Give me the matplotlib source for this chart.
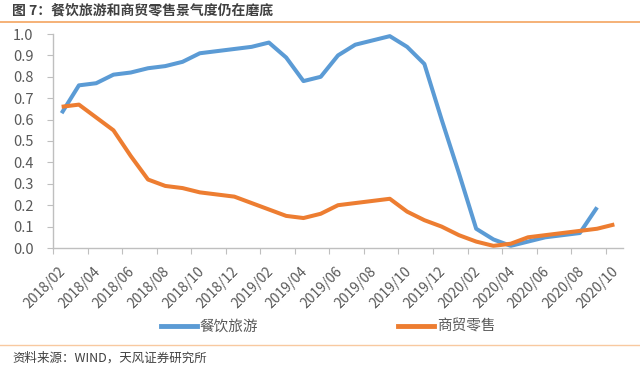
import numpy as np
import matplotlib
matplotlib.use("Agg")
from matplotlib import pyplot as plt
from matplotlib.lines import Line2D
from matplotlib.transforms import ScaledTranslation

plt.rcParams['font.family'] = ['Noto Sans CJK SC', 'DejaVu Sans']

# monthly, 2018/02 .. 2020/10
months = ["%d/%02d" % (2018 + (m - 1) // 12, (m - 1) % 12 + 1) for m in range(2, 2 + 33)]
catering_tourism = [0.63, 0.76, 0.77, 0.81, 0.82, 0.84, 0.85, 0.87, 0.91, 0.92, 0.93,
                    0.94, 0.96, 0.89, 0.78, 0.80, 0.90, 0.95, 0.97, 0.99, 0.94, 0.86,
                    0.60, 0.35, 0.09, 0.04, 0.01, 0.03, 0.05, 0.06, 0.07, 0.19, np.nan]
retail = [0.66, 0.67, 0.61, 0.55, 0.43, 0.32, 0.29, 0.28, 0.26, 0.25, 0.24,
          0.21, 0.18, 0.15, 0.14, 0.16, 0.20, 0.21, 0.22, 0.23, 0.17, 0.13,
          0.10, 0.06, 0.03, 0.01, 0.02, 0.05, 0.06, 0.07, 0.08, 0.09, 0.11]
series_names = ["餐饮旅游", "商贸零售"]
title = "图 7：餐饮旅游和商贸零售景气度仍在磨底"
source = "资料来源：WIND，天风证券研究所"

blue = "#5B9BD5"
orange = "#ED7D31"
grey = "#595959"
axis_grey = "#BFBFBF"

fig = plt.figure(figsize=(6.4, 3.7), dpi=100)
ax = fig.add_axes([53 / 640, 1 - 248 / 370, 570 / 640, 214 / 370])

x = np.arange(len(months))
ax.plot(x, catering_tourism, color=blue, lw=2.9, solid_capstyle='butt', solid_joinstyle='round')
ax.plot(x, retail, color=orange, lw=2.9, solid_capstyle='butt', solid_joinstyle='round')

ax.set_xlim(-0.5, len(months) - 0.5)
ax.set_ylim(0, 1.0)
ax.set_yticks(np.round(np.arange(0, 1.01, 0.1), 1))
ax.set_yticklabels(["%.1f" % v for v in np.arange(0, 1.01, 0.1)], fontsize=10.5, color=grey)

ax.set_xticks(np.arange(-0.5, len(months), 2))
ax.set_xticklabels([])
ax.set_xticks(x[::2], minor=True)
ax.set_xticklabels(months[::2], minor=True, rotation=45, ha='right', va='top',
                   rotation_mode='anchor', fontsize=10, color=grey)
ax.tick_params(axis='x', which='major', length=4, color=axis_grey, direction='out')
ax.tick_params(axis='x', which='minor', length=0, pad=6)
ax.tick_params(axis='y', length=4, color=axis_grey, pad=10)
shift = ScaledTranslation(-3 / 100, -8 / 100, fig.dpi_scale_trans)
for lbl in ax.get_xticklabels(minor=True):
    lbl.set_transform(lbl.get_transform() + shift)

for s in ['top', 'right']:
    ax.spines[s].set_visible(False)
for s in ['left', 'bottom']:
    ax.spines[s].set_color(axis_grey)
    ax.spines[s].set_linewidth(1.0)

handles = [Line2D([], [], color=blue, lw=3.5), Line2D([], [], color=orange, lw=3.5)]
fig.legend(handles, series_names, loc='center', bbox_to_anchor=(328 / 640, 1 - 327 / 370),
           ncol=2, frameon=False, fontsize=10.5, handlelength=2.5, handletextpad=0.15,
           columnspacing=9.6, labelcolor=grey)

fig.text(12 / 640, 1 - 10.5 / 370, title, fontsize=10, fontweight='bold', color="#404040",
         ha='left', va='center')
fig.add_artist(Line2D([0, 1], [1 - 21.5 / 370] * 2, color="#F4A460", lw=1.2))
fig.add_artist(Line2D([0, 1], [1 - 344.5 / 370] * 2, color="#F8C9A0", lw=1.0))
fig.text(12 / 640, 1 - 358 / 370, source, fontsize=9, color="#404040", ha='left', va='center')

fig.savefig("out.png", dpi=100)
